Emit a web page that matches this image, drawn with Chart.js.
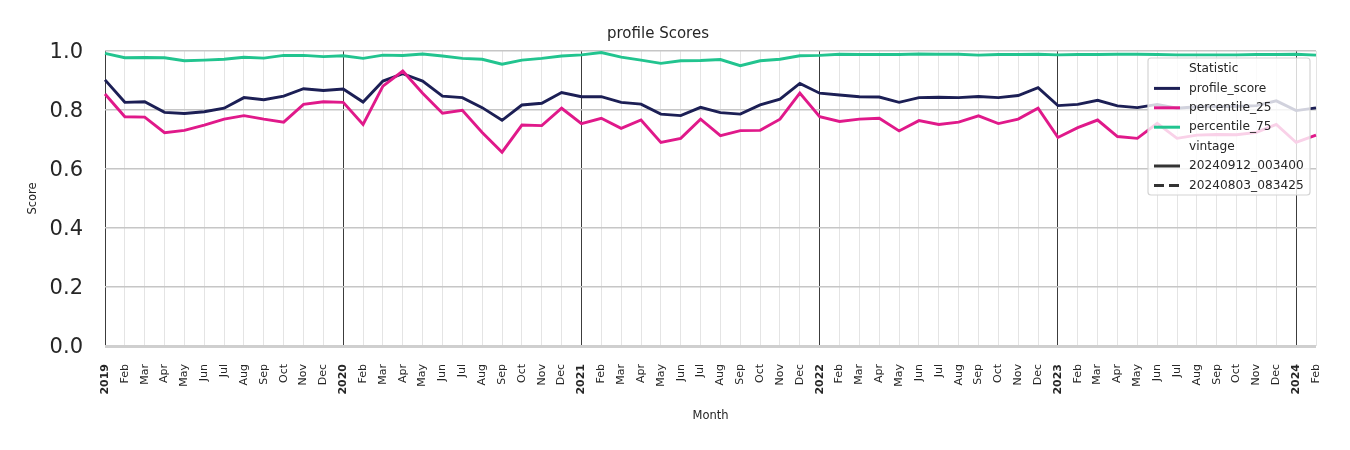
<!DOCTYPE html>
<html><head><meta charset="utf-8">
<script src="https://cdn.jsdelivr.net/npm/chart.js@4.4.1/dist/chart.umd.min.js"></script>
<style>html,body{margin:0;padding:0;background:#fff}#wrap{width:1350px;height:450px}</style>
</head><body><div id="wrap"><canvas id="c" width="1350" height="450"></canvas></div>
<script>
const months = [
 '2019','Feb','Mar','Apr','May','Jun','Jul','Aug','Sep','Oct','Nov','Dec',
 '2020','Feb','Mar','Apr','May','Jun','Jul','Aug','Sep','Oct','Nov','Dec',
 '2021','Feb','Mar','Apr','May','Jun','Jul','Aug','Sep','Oct','Nov','Dec',
 '2022','Feb','Mar','Apr','May','Jun','Jul','Aug','Sep','Oct','Nov','Dec',
 '2023','Feb','Mar','Apr','May','Jun','Jul','Aug','Sep','Oct','Nov','Dec',
 '2024','Feb'];
const yearLabels = ['2019','2020','2021','2022','2023','2024'];
const profileScore = [
 0.902,0.826,0.828,0.792,0.788,0.794,0.806,0.842,0.835,0.847,0.872,0.866,
 0.871,0.827,0.898,0.923,0.898,0.847,0.842,0.808,0.765,0.817,0.823,0.859,
 0.845,0.845,0.826,0.820,0.786,0.781,0.809,0.791,0.786,0.817,0.837,0.890,
 0.857,0.851,0.845,0.844,0.826,0.842,0.843,0.842,0.846,0.842,0.849,0.876,
 0.815,0.819,0.833,0.814,0.808,0.819,0.806,0.811,0.812,0.812,0.815,0.831,
 0.798,0.807];
const percentile25 = [
 0.854,0.777,0.776,0.723,0.731,0.749,0.769,0.781,0.769,0.759,0.819,0.828,
 0.826,0.751,0.881,0.932,0.857,0.789,0.799,0.724,0.657,0.749,0.747,0.806,
 0.754,0.772,0.738,0.766,0.690,0.704,0.769,0.713,0.730,0.731,0.769,0.857,
 0.777,0.761,0.769,0.772,0.729,0.764,0.751,0.759,0.780,0.754,0.769,0.806,
 0.707,0.740,0.766,0.710,0.704,0.755,0.704,0.715,0.717,0.716,0.724,0.751,
 0.690,0.715];
const percentile75 = [
 0.992,0.977,0.978,0.977,0.967,0.969,0.972,0.979,0.976,0.985,0.985,0.981,
 0.984,0.975,0.986,0.985,0.990,0.983,0.975,0.972,0.955,0.969,0.975,0.983,
 0.987,0.995,0.979,0.969,0.958,0.967,0.968,0.971,0.950,0.967,0.972,0.984,
 0.985,0.989,0.988,0.988,0.988,0.990,0.989,0.989,0.986,0.988,0.988,0.989,
 0.987,0.988,0.988,0.989,0.989,0.988,0.987,0.987,0.987,0.987,0.988,0.988,
 0.989,0.986];
const seriesNames = ['profile_score','percentile_25','percentile_75'];
const seriesColors = ['#1c1f55','#e0198a','#22c48f'];
const vintages = ['20240912_003400','20240803_083425'];

const FONT = "'DejaVu Sans', sans-serif";
const TXT = '#262626';

const legendPlugin = {
  id: 'customLegend',
  afterDraw(chart) {
    const ctx = chart.ctx, ca = chart.chartArea;
    const w = 162, h = 137;
    const x0 = ca.right - 6 - w, y0 = ca.top + 7;
    ctx.save();
    ctx.beginPath();
    if (ctx.roundRect) ctx.roundRect(x0, y0, w, h, 3); else ctx.rect(x0, y0, w, h);
    ctx.fillStyle = 'rgba(255,255,255,0.8)';
    ctx.fill();
    ctx.strokeStyle = '#d4d4d4';
    ctx.lineWidth = 1.2;
    ctx.stroke();
    ctx.font = '12.2px ' + FONT;
    ctx.fillStyle = TXT;
    ctx.textBaseline = 'middle';
    ctx.textAlign = 'left';
    const tx = x0 + 41, lx0 = x0 + 6, lx1 = x0 + 32;
    const rows = [];
    rows.push({text:'Statistic'});
    seriesNames.forEach((n,i)=>rows.push({text:n,color:seriesColors[i]}));
    rows.push({text:'vintage'});
    rows.push({text:vintages[0],color:'#333333'});
    rows.push({text:vintages[1],color:'#333333',dash:[10,5]});
    rows.forEach((r,i)=>{
      const y = y0 + 11 + i*19.4;
      if (r.color) {
        ctx.beginPath();
        ctx.setLineDash(r.dash || []);
        ctx.strokeStyle = r.color;
        ctx.lineWidth = 3;
        ctx.moveTo(lx0, y); ctx.lineTo(lx1, y); ctx.stroke();
        ctx.setLineDash([]);
      }
      ctx.fillStyle = TXT;
      ctx.fillText(r.text, tx, y);
    });
    ctx.restore();
  }
};

const dsData = [profileScore, percentile25, percentile75];
new Chart(document.getElementById('c'), {
  type: 'line',
  data: {
    labels: months,
    datasets: seriesNames.map((n,i)=>({
      label: n,
      data: dsData[i],
      borderColor: seriesColors[i],
      backgroundColor: seriesColors[i],
      borderWidth: 2.9,
      pointRadius: 0,
      tension: 0,
      fill: false,
      order: 3 - i
    }))
  },
  options: {
    responsive: false,
    animation: false,
    devicePixelRatio: 1,
    layout: { padding: { left: 0, right: 34, top: 0, bottom: 0 } },
    plugins: {
      legend: { display: false },
      tooltip: { enabled: false },
      title: { display: true, text: 'profile Scores', color: TXT,
               font: { family: FONT, size: 15, weight: 'normal' },
               padding: { top: 25, bottom: 8 } }
    },
    scales: {
      x: {
        type: 'category',
        offset: false,
        border: { display: false },
        grid: {
          drawTicks: false,
          color: (c) => (c.index % 12 === 0 ? '#3c3c3c' : '#e4e4e4'),
          lineWidth: 1
        },
        ticks: {
          autoSkip: false, maxRotation: 90, minRotation: 90, padding: 18,
          color: TXT,
          font: (c) => ({ family: FONT, size: 11, weight: (c.index % 12 === 0) ? 'bold' : 'normal' })
        },
        title: { display: true, text: 'Month', color: TXT,
                 font: { family: FONT, size: 11.5 }, padding: { top: 27, bottom: 27 } },
        afterFit: (s) => { s.height = 104; }
      },
      y: {
        min: 0, max: 1,
        border: { display: false },
        grid: {
          drawTicks: false,
          color: (c) => (c.index === 0 ? '#cfcfcf' : '#c6c6c6'),
          lineWidth: (c) => (c.index === 0 ? 3 : 1.6)
        },
        ticks: { stepSize: 0.2, padding: 22, color: TXT, labelOffset: 2,
                 font: { family: FONT, size: 21 },
                 callback: (v) => Number(v).toFixed(1) },
        title: { display: true, text: 'Score', color: TXT,
                 font: { family: FONT, size: 11.5 }, padding: { top: 26, bottom: 26 } },
        afterFit: (s) => { s.width = 105; }
      }
    }
  },
  plugins: [legendPlugin]
});
</script>
</body></html>
